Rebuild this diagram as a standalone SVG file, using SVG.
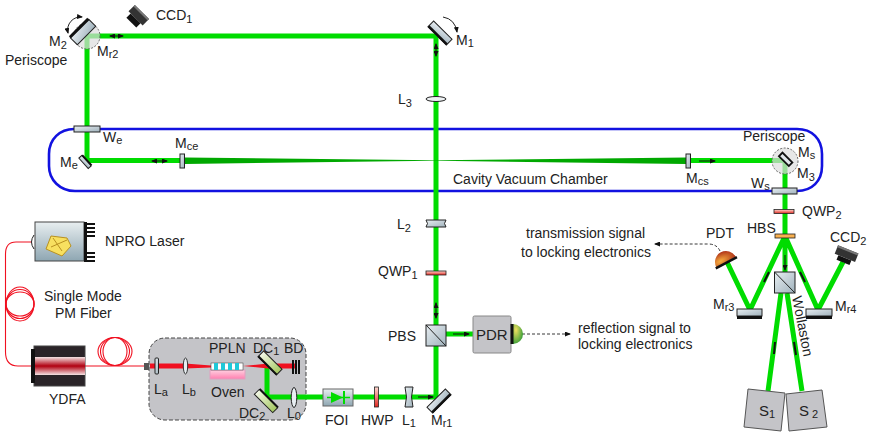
<svg xmlns="http://www.w3.org/2000/svg" width="872" height="435" viewBox="0 0 872 435">
<style>
text{font-family:"Liberation Sans",Arial,sans-serif;font-size:14px;fill:#222}
.s{font-size:11px}
.g{fill:none;stroke:#00dc00;stroke-width:5}
.r{fill:none;stroke:#f01020;stroke-width:1.1}
.a{fill:none;stroke:#111;stroke-width:1;marker-end:url(#h)}
.b{fill:none;stroke:#111;stroke-width:1;marker-end:url(#h);marker-start:url(#hs)}
.d{fill:none;stroke:#222;stroke-width:.9;stroke-dasharray:3 2}
.m{fill:url(#steel);stroke:#222;stroke-width:1}
.bk{fill:#111}
.blue{fill:none;stroke:#1212e0;stroke-width:2.6}
</style>
<defs>
<marker id="h" markerWidth="6" markerHeight="5" refX="5" refY="2.500" orient="auto" markerUnits="userSpaceOnUse"><path d="M0 0L6 2.500L0 5z" fill="#111"/></marker>
<marker id="hs" markerWidth="6" markerHeight="5" refX="1" refY="2.500" orient="auto" markerUnits="userSpaceOnUse"><path d="M6 0L0 2.500L6 5z" fill="#111"/></marker>
<linearGradient id="steel" x1="0" y1="0" x2="1" y2="1"><stop offset="0" stop-color="#e8eef2"/><stop offset="1" stop-color="#a0b2bc"/></linearGradient>
<linearGradient id="npro" x1="0" y1="0" x2="0" y2="1"><stop offset="0" stop-color="#e8eef0"/><stop offset="1" stop-color="#8ea6b2"/></linearGradient>
<linearGradient id="red" x1="0" y1="0" x2="0" y2="1"><stop offset="0" stop-color="#f4e4e4"/><stop offset=".5" stop-color="#b00010"/><stop offset="1" stop-color="#f4e4e4"/></linearGradient>
<linearGradient id="pink" x1="0" y1="0" x2="0" y2="1"><stop offset="0" stop-color="#ffd0e0"/><stop offset="1" stop-color="#ff80b0"/></linearGradient>
<linearGradient id="dc" x1="0" y1="0" x2="1" y2="0"><stop offset="0" stop-color="#f4f8e8"/><stop offset="1" stop-color="#a4c860"/></linearGradient>
<linearGradient id="rv" x1="0" y1="0" x2="0" y2="1"><stop offset="0" stop-color="#ffd8d0"/><stop offset="1" stop-color="#e02820"/></linearGradient>
<radialGradient id="pdr" cx=".3" cy=".3" r=".9"><stop offset="0" stop-color="#f0e060"/><stop offset="1" stop-color="#109030"/></radialGradient>
<radialGradient id="pdt" cx=".3" cy=".7" r=".9"><stop offset="0" stop-color="#f8b040"/><stop offset="1" stop-color="#a01810"/></radialGradient>
</defs>

<g id="chamber">
<path class="blue" d="M74 129H797C812 129 822 139 822 154V166C822 181 812 191 797 191H75C60 191 49 180 49 166V154C49 139 60 129 74 129Z"/>
</g>
<g id="box"><rect x="149" y="338" width="157" height="82" rx="16" fill="#c4c4c8" stroke="#444" stroke-width="1" stroke-dasharray="4 2"/></g>

<g id="connectors">
<path class="g" d="M87 160V36H436V397H323"/>
<path class="g" d="M87 160.500H182"/>
<path class="g" d="M688 160.500H785V236"/>
<path d="M185 157.500L435 160.300V160.700L185 164Z" fill="#00a800"/>
<path d="M686 157.500L435 160.300V160.700L686 164Z" fill="#00a800"/>
<path class="g" d="M267 366V397H323"/>
<path class="g" d="M436 334H473"/>
<path class="g" d="M785 236L750 310L727 262M785 236L818 310L843 262M785 236V272M781 293L768 391M787 293L802 391"/>
<path d="M150 363.500H185L211 365.500V367.500L185 368.500H150Z" fill="#f01020"/>
<path d="M243 366L268 363.500H296V368.500H268Z" fill="#f01020"/>
<path class="r" d="M34 242H16Q5.500 242 5.500 254V352Q5.500 366 18 366H34"/>
<g class="r"><ellipse cx="20" cy="304" rx="14" ry="17"/><ellipse cx="20" cy="304" rx="14" ry="14.500"/><ellipse cx="20" cy="304" rx="14" ry="12"/></g>
<path class="r" d="M85 366H146"/>
<g class="r"><ellipse cx="115" cy="351.500" rx="17" ry="14"/><ellipse cx="115" cy="351.500" rx="14.500" ry="14"/><ellipse cx="115" cy="351.500" rx="12" ry="14"/></g>
<path class="b" d="M110 36H123"/>
<path class="b" d="M436 44V56"/>
<path class="b" d="M152 161H167"/>
<path class="a" d="M699 161H715"/>
<path class="b" d="M436 303V318"/>
<path class="a" d="M453 334H469"/>
<path class="a" d="M418 397H433"/>
<path class="a" d="M785 255V270"/>
<path d="M769 272L764 282M800 272L805 282M775 342L774 354M794 342L796 355" stroke="#111" stroke-width="2"/>
<path class="d" d="M522 334H570" marker-end="url(#h)"/>
<path class="d" d="M720 251Q717 244 708 244H655" marker-end="url(#h)"/>
<path d="M68 33A13 13 0 0 1 82 17" fill="none" stroke="#222" marker-end="url(#h)" marker-start="url(#hs)"/>
<path d="M443 17Q455 19 457 32" fill="none" stroke="#222" marker-end="url(#h)"/>
</g>

<g id="Mr2"><circle cx="87" cy="36" r="13" fill="#ddd" fill-opacity=".7" stroke="#666" stroke-dasharray="2 1.500"/></g>
<g id="M2" transform="rotate(-45 83 32)"><rect x="70" y="27" width="26" height="10" class="m"/><rect x="70" y="25" width="26" height="3" class="bk"/></g>
<g id="CCD1" transform="rotate(45 137 17)"><rect x="127" y="10" width="20" height="9" fill="#333"/><rect x="130" y="19" width="14" height="6" fill="#111"/><path d="M127 10h20v2h-20z" fill="#777"/></g>
<g id="M1" transform="rotate(45 440 33)"><rect x="427" y="29" width="26" height="8" class="m"/><rect x="427" y="35" width="26" height="2.500" class="bk"/></g>
<g id="L3"><ellipse cx="436" cy="99" rx="10" ry="2.500" fill="#eef2f4" stroke="#222"/></g>
<g id="We"><rect x="74" y="126" width="26" height="6" class="m"/></g>
<g id="Me" transform="rotate(48 85 162)"><rect x="78" y="160" width="14" height="4" class="m"/><rect x="78" y="158.500" width="14" height="1.800" class="bk"/></g>
<g id="Mce"><rect x="180" y="154" width="4.500" height="14" class="m"/></g>
<g id="Mcs"><rect x="686" y="154" width="4.500" height="14" class="m"/></g>
<g id="Ms"><circle cx="785" cy="161" r="13" fill="#ddd" fill-opacity=".7" stroke="#666" stroke-dasharray="2 1.500"/><g transform="rotate(45 786 159)"><rect x="779" y="157" width="14" height="5" fill="#e0e6ea" stroke="#111" stroke-width="1.800"/></g></g>
<g id="Ws"><rect x="772" y="188" width="25" height="6" class="m"/></g>
<g id="QWP2"><rect x="774" y="209.500" width="20" height="4" fill="url(#rv)" stroke="#222" stroke-width=".8"/></g>
<g id="HBS"><rect x="775" y="234" width="20" height="4" fill="#f8b050" stroke="#222" stroke-width=".8"/></g>
<g id="L2"><path d="M426 220H446Q443 223.500 446 227H426Q429 223.500 426 220Z" class="m"/></g>
<g id="QWP1"><rect x="426" y="271" width="20" height="4" fill="url(#rv)" stroke="#222" stroke-width=".8"/></g>
<g id="PBS"><rect x="426" y="325" width="20" height="21" class="m"/><path d="M426 325L446 346" stroke="#222"/></g>
<g id="PDR"><rect x="473" y="316" width="38" height="37" rx="1.500" fill="#c4c4c8" stroke="#888"/><path d="M513 324A10 10 0 0 1 513 344Z" fill="url(#pdr)"/><rect x="510.500" y="324" width="3" height="20" class="bk"/></g>
<g id="Mr1" transform="rotate(-45 439 401)"><rect x="426" y="397" width="26" height="8" class="m"/><rect x="426" y="403" width="26" height="2.500" class="bk"/></g>
<g id="L1"><path d="M405 387H413Q410 397 413 407H405Q408 397 405 387Z" class="m"/></g>
<g id="HWP"><rect x="374.500" y="387" width="4" height="20" fill="url(#rv)" stroke="#222" stroke-width=".8"/></g>
<g id="FOI"><rect x="323" y="389" width="30" height="17" fill="url(#npro)" stroke="#666"/><path d="M331 392L343 397.500L331 403Z" fill="#00dc00"/><path d="M344 391V404" stroke="#00dc00" stroke-width="2"/><path d="M327 397.500H350" stroke="#00dc00" stroke-width="1.500"/></g>
<g id="L0"><ellipse cx="294" cy="397.500" rx="2.800" ry="10" fill="#e8eef2" stroke="#222"/></g>
<g id="DC2" transform="rotate(45 266 401)"><rect x="253" y="397.500" width="26" height="7" fill="url(#dc)" stroke="#222"/><rect x="253" y="396" width="26" height="2" class="bk"/></g>
<g id="DC1" transform="rotate(45 270 363)"><rect x="257" y="359" width="26" height="8" fill="url(#dc)" stroke="#222"/><rect x="257" y="365.500" width="26" height="2" class="bk"/></g>
<g id="BD"><rect x="292" y="360" width="2" height="14" class="bk"/><rect x="295" y="360" width="2" height="14" class="bk"/><rect x="298" y="360" width="2" height="14" class="bk"/></g>
<g id="Oven"><rect x="210" y="370" width="35" height="9" fill="url(#pink)" stroke="#e0a0c0"/></g>
<g id="PPLN"><rect x="211" y="363" width="32" height="7" fill="#fff" stroke="#333" stroke-width=".5"/><path d="M214 363h4v7h-4zM221 363h4v7h-4zM228 363h4v7h-4zM235 363h4v7h-4z" fill="#20c8d8"/></g>
<g id="Lb"><ellipse cx="185.500" cy="366" rx="2.200" ry="8" fill="#e8eef2" stroke="#333"/></g>
<g id="La"><rect x="155" y="358" width="3.500" height="16" rx="1" class="m"/></g>
<g id="Coupler"><rect x="144" y="363" width="5" height="7" fill="#555"/></g>
<g id="NPRO"><rect x="35" y="222" width="49" height="39" fill="url(#npro)" stroke="#444"/><rect x="84" y="222" width="3" height="40" class="bk"/><path d="M87 223h8v2h-8zM87 227h8v2h-8zM87 231h8v2h-8zM87 235h8v2h-8zM87 252h8v2h-8zM87 256h8v2h-8zM87 260h8v2h-8z" class="bk"/><path d="M51 236L67 238L71 246L62 256L46 249Z" fill="#f8e060" stroke="#b89020"/><path d="M53 238L62 251M51 247L67 240" stroke="#b89020" fill="none"/><path d="M34 235Q29 242 34 249" fill="#fff" stroke="#222"/></g>
<g id="YDFA"><rect x="34" y="346" width="51" height="40" fill="#2a2428" stroke="#444"/><rect x="35" y="357" width="50" height="18" fill="url(#red)"/><rect x="31" y="349" width="4" height="34" class="bk"/></g>
<g id="Wollaston"><rect x="774.500" y="272" width="20.500" height="21" class="m"/><path d="M774.500 272L795 293" stroke="#222"/></g>
<g id="Mr3"><rect x="737" y="309" width="25" height="7" class="m"/><rect x="737" y="316" width="25" height="3" class="bk"/></g>
<g id="Mr4"><rect x="806" y="309" width="26" height="7" class="m"/><rect x="806" y="316" width="26" height="3" class="bk"/></g>
<g id="PDT"><g transform="rotate(-28 726 262)"><path d="M715 262A11 11 0 0 1 737 262Z" fill="url(#pdt)"/><rect x="714" y="261.500" width="24" height="2.500" class="bk"/></g></g>
<g id="CCD2" transform="rotate(22 846 255)"><rect x="835" y="249" width="22" height="9" fill="#333"/><rect x="835" y="249" width="22" height="2" fill="#777"/><rect x="839" y="258" width="14" height="5" fill="#111"/></g>
<g id="S1"><path d="M748 389L785 393L781 431L744 427Z" fill="#c4c4c8" stroke="#555"/></g>
<g id="S2"><path d="M786 394L822 390L827 427L789 431Z" fill="#c4c4c8" stroke="#555"/></g>

<g id="labels">
<text x="156" y="20">CCD<tspan class="s" dy="3">1</tspan></text>
<text x="49" y="46">M<tspan class="s" dy="3">2</tspan></text>
<text x="97" y="56">M<tspan class="s" dy="2">r2</tspan></text>
<text x="5" y="65">Periscope</text>
<text x="456" y="45">M<tspan class="s" dy="2">1</tspan></text>
<text x="398" y="104">L<tspan class="s" dy="3">3</tspan></text>
<text x="103" y="142">W<tspan class="s" dy="2">e</tspan></text>
<text x="175" y="148">M<tspan class="s" dy="2">ce</tspan></text>
<text x="60" y="167">M<tspan class="s" dy="2">e</tspan></text>
<text x="453" y="184">Cavity Vacuum Chamber</text>
<text x="686" y="183">M<tspan class="s" dy="2">cs</tspan></text>
<text x="743" y="141">Periscope</text>
<text x="798" y="157">M<tspan class="s" dy="2">s</tspan></text>
<text x="797" y="178">M<tspan class="s" dy="3">3</tspan></text>
<text x="751" y="188">W<tspan class="s" dy="2">s</tspan></text>
<text x="802" y="216">QWP<tspan class="s" dy="3">2</tspan></text>
<text x="747" y="233">HBS</text>
<text x="706" y="238">PDT</text>
<text x="830" y="242">CCD<tspan class="s" dy="3">2</tspan></text>
<text x="526" y="238">transmission signal</text>
<text x="521" y="257">to locking electronics</text>
<text x="397" y="229">L<tspan class="s" dy="3">2</tspan></text>
<text x="378" y="276">QWP<tspan class="s" dy="3">1</tspan></text>
<text x="388" y="341">PBS</text>
<text x="476" y="340" style="font-size:15px">PDR</text>
<text x="578" y="333">reflection signal to</text>
<text x="578" y="349">locking electronics</text>
<text x="713" y="309">M<tspan class="s" dy="2">r3</tspan></text>
<text x="835" y="311">M<tspan class="s" dy="2">r4</tspan></text>
<text transform="translate(792 297) rotate(79)">Wollaston</text>
<text x="105" y="246">NPRO Laser</text>
<text x="44" y="301">Single Mode</text>
<text x="55" y="318">PM Fiber</text>
<text x="49" y="404">YDFA</text>
<text x="154" y="394">L<tspan class="s" dy="2">a</tspan></text>
<text x="182" y="394">L<tspan class="s" dy="2">b</tspan></text>
<text x="209" y="353">PPLN</text>
<text x="253" y="353">DC<tspan class="s" dy="2">1</tspan></text>
<text x="284" y="353">BD</text>
<text x="211" y="397">Oven</text>
<text x="239" y="418">DC<tspan class="s" dy="2">2</tspan></text>
<text x="287" y="418">L<tspan class="s" dy="2">0</tspan></text>
<text x="325" y="425">FOI</text>
<text x="361" y="425">HWP</text>
<text x="402" y="425">L<tspan class="s" dy="2">1</tspan></text>
<text x="431" y="425">M<tspan class="s" dy="2">r1</tspan></text>
<text x="759" y="416" style="font-size:15px">S<tspan class="s" dy="2">1</tspan></text>
<text x="799" y="416" style="font-size:15px">S<tspan class="s" dy="2"> 2</tspan></text>
</g>
</svg>
